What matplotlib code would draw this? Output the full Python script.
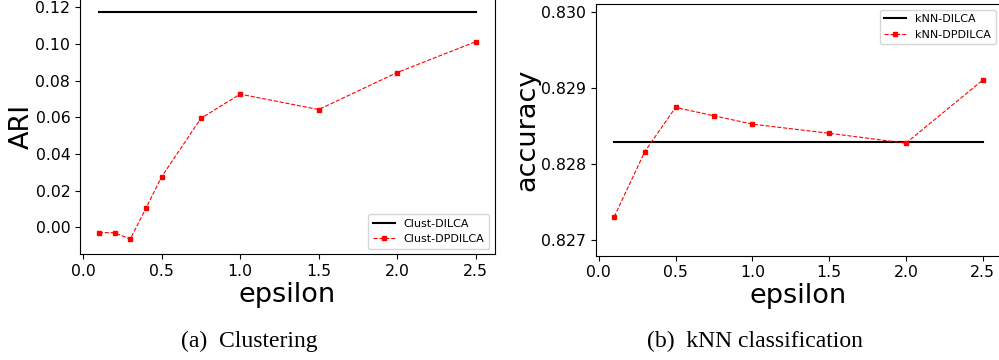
import matplotlib
matplotlib.use('Agg')
import matplotlib.pyplot as plt

# epsilon values and scores
eps_clust = [0.1, 0.2, 0.3, 0.4, 0.5, 0.75, 1.0, 1.5, 2.0, 2.5]
ari_dilca = 0.1176
ari_dpdilca = [-0.0029, -0.0029, -0.0064, 0.0105, 0.0276, 0.0595, 0.0727, 0.0643, 0.0845, 0.1013]

eps_knn = [0.1, 0.3, 0.5, 0.75, 1.0, 1.5, 2.0, 2.5]
acc_dilca = 0.82830
acc_dpdilca = [0.82731, 0.82817, 0.82875, 0.82864, 0.82853, 0.82841, 0.82828, 0.82911]

xticks = [0.0, 0.5, 1.0, 1.5, 2.0, 2.5]
captions = ['(a)  Clustering', '(b)  kNN classification']

fig = plt.figure(figsize=(9.99, 3.6), dpi=100)

ax1 = fig.add_axes([80/999, 105.7/360, 414.5/999, 256/360])
ax2 = fig.add_axes([595.7/999, 104.3/360, 405.5/999, 251.7/360])


def draw(ax, eps, base, vals, names, ylabel, loc):
    ax.plot([eps[0], eps[-1]], [base, base], color='black', lw=1.5, label=names[0])
    ax.plot(eps, vals, color='red', ls='--', lw=0.8, marker='s', ms=3, label=names[1])
    ax.set_xlim(-0.02, 2.62)
    ax.set_xticks(xticks)
    ax.tick_params(labelsize=11.3)
    ax.set_xlabel('epsilon', fontsize=19.5, labelpad=2)
    ax.set_ylabel(ylabel, fontsize=19.5, labelpad=0.5)
    ax.legend(loc=loc, fontsize=8)


draw(ax1, eps_clust, ari_dilca, ari_dpdilca, ['Clust-DILCA', 'Clust-DPDILCA'], 'ARI', 'lower right')
ax1.set_ylim(-0.0147, 0.125)
ax1.set_yticks([0.0, 0.02, 0.04, 0.06, 0.08, 0.10, 0.12])

draw(ax2, eps_knn, acc_dilca, acc_dpdilca, ['kNN-DILCA', 'kNN-DPDILCA'], 'accuracy', 'upper right')
ax2.set_ylim(0.8268, 0.83011)
ax2.set_yticks([0.827, 0.828, 0.829, 0.830])

fig.text(249/999, 1 - 341.5/360, captions[0], ha='center', va='center',
         family='Liberation Serif', fontsize=17)
fig.text(755/999, 1 - 341.5/360, captions[1], ha='center', va='center',
         family='Liberation Serif', fontsize=17)

fig.savefig('out.png', dpi=100)
